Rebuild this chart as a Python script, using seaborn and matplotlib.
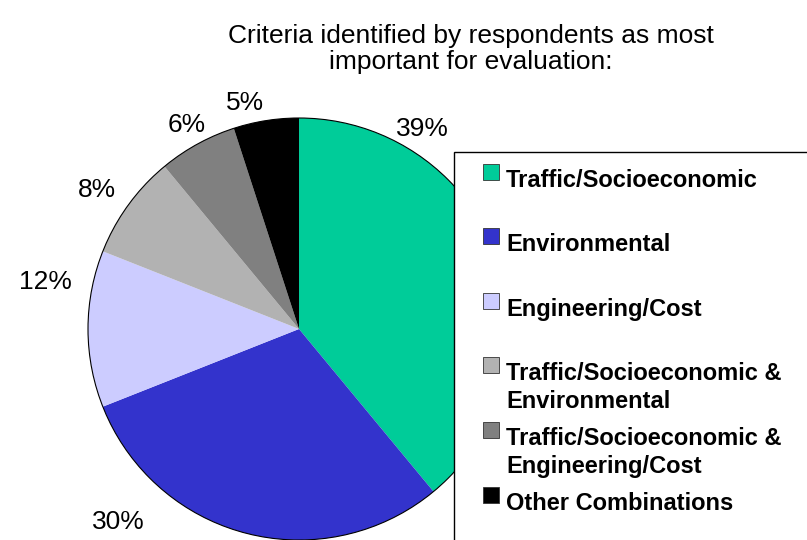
import matplotlib
matplotlib.use("Agg")
import matplotlib.pyplot as plt
from matplotlib.patches import Rectangle, Circle
import seaborn as sns

# Share of respondents per most-important evaluation criterion (%)
categories = [
    "Traffic/Socioeconomic",
    "Environmental",
    "Engineering/Cost",
    "Traffic/Socioeconomic &\nEnvironmental",
    "Traffic/Socioeconomic &\nEngineering/Cost",
    "Other Combinations",
]
shares = [39, 30, 12, 8, 6, 5]
colors = ["#00CC99", "#3333CC", "#CCCCFF", "#B2B2B2", "#808080", "#000000"]
title = "Criteria identified by respondents as most\nimportant for evaluation:"

sns.set_theme(style="white")
plt.rcParams["font.family"] = ["Liberation Sans", "DejaVu Sans"]
plt.rcParams["text.color"] = "black"

W, H = 807, 540
fig = plt.figure(figsize=(W / 100, H / 100), dpi=100)
ax = fig.add_axes([0, 0, 1, 1])

# pie geometry in pixel units (y measured upward)
cx, cy, r = 299, H - 329, 211
ax.pie(shares, colors=colors, startangle=90, counterclock=False,
       center=(cx, cy), radius=r, frame=True,
       wedgeprops=dict(linewidth=0))
ax.add_patch(Circle((cx, cy), r, fill=False, edgecolor="black", lw=0.8, zorder=3))
ax.set_xlim(0, W)
ax.set_ylim(0, H)
ax.set_aspect("equal")
ax.axis("off")

# percentage labels around the rim
label_pos = [(422, 129), (118, 522), (45, 282), (97, 190), (187, 125), (245, 103)]
for v, (lx, ly) in zip(shares, label_pos):
    ax.text(lx, H - ly, f"{v}%", ha="center", va="center", fontsize=19, color="black")

fig.text(471 / W, 1 - 49 / H, title, ha="center", va="center",
         fontsize=19, linespacing=1.12, color="black")

# legend box overlapping the right side of the pie
ax.add_patch(Rectangle((454, -10), 400, H - 152 + 10, facecolor="white",
                       edgecolor="black", lw=1.0, zorder=5, clip_on=False))
marker_tops = [164, 228, 293, 357, 422, 487]
for lab, col, top in zip(categories, colors, marker_tops):
    ax.add_patch(Rectangle((483, H - top - 16), 16, 16, facecolor=col,
                           edgecolor="#333333", lw=0.6, zorder=6))
    for k, line in enumerate(lab.split("\n")):
        ax.text(506, H - (top + 23 + 28 * k), line, ha="left", va="baseline",
                fontsize=17, fontweight="bold", color="black", zorder=7)

fig.savefig("out.png", dpi=100)
